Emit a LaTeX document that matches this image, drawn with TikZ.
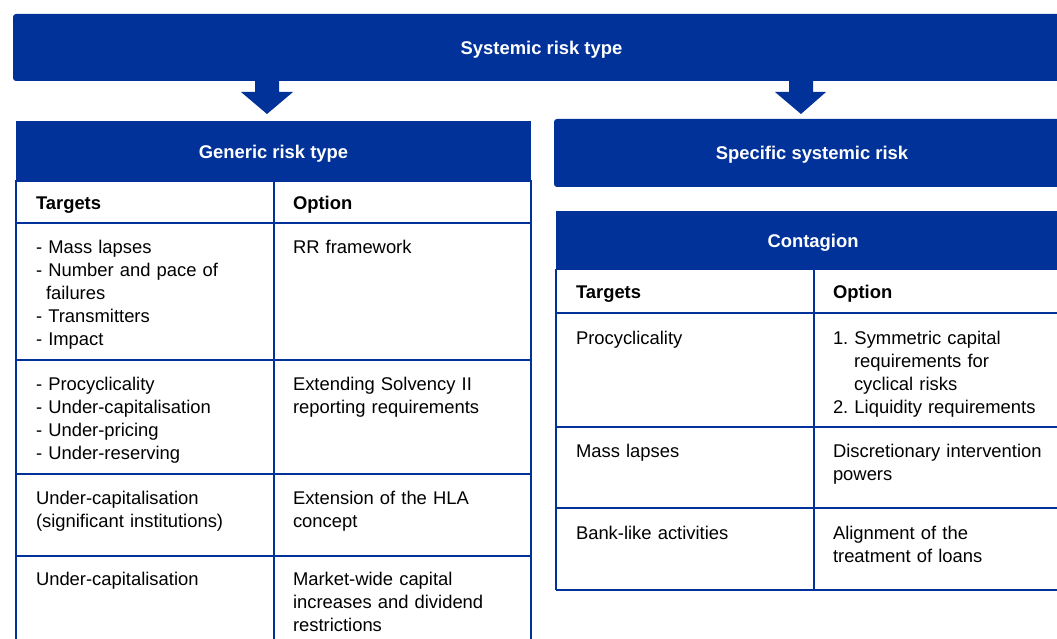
\documentclass[tikz,border=0pt]{standalone}
\usepackage{fontspec}
\setmainfont{Liberation Sans}
\definecolor{ecb}{RGB}{0,50,153}
\begin{document}
\begin{tikzpicture}[x=1pt,y=-1pt,
  hdr/.style={fill=ecb, text=white, font=\bfseries\fontsize{18.4}{23}\selectfont, inner sep=0pt, outer sep=0pt, text height=13.2pt, text depth=0pt},
  cell/.style={anchor=base west, inner sep=0pt, outer sep=0pt, align=left, text width=235pt, font=\fontsize{18.4}{23}\selectfont, text=black},
  headcell/.style={cell, font=\bfseries\fontsize{18.4}{23}\selectfont},
  grid/.style={draw=ecb, line width=2.5pt},
  blockarrow/.style={fill=ecb}]
\useasboundingbox (0,0) rectangle (1057,639);
\clip (0,0) rectangle (1057,639);

% headers
\node[hdr, rounded corners=3pt, minimum width=1057pt, minimum height=67pt] (banner) at (541.5,47.5) {Systemic risk type};
\node[hdr, minimum width=515pt, minimum height=61pt] (generic) at (273.5,151.5) {Generic risk type};
\node[hdr, rounded corners=3pt, minimum width=516pt, minimum height=68pt] (specific) at (812,153) {Specific systemic risk};
\node[hdr, minimum width=514pt, minimum height=59pt] (contagion) at (813,240.5) {Contagion};

% block arrows
\fill[blockarrow] (255,80) -- (279,80) -- (279,92) -- (293,92) -- (267,114) -- (241,92) -- (255,92) -- cycle;
\fill[blockarrow] (789,80) -- (813,80) -- (813,92) -- (826,92) -- (801,114) -- (775,92) -- (789,92) -- cycle;

% left table grid
\draw[grid] (16,180) -- (16,645);
\draw[grid] (274,180) -- (274,645);
\draw[grid] (531,180) -- (531,645);
\foreach \y in {223,360,474,556} \draw[grid] (16,\y) -- (531,\y);

% right table grid
\draw[grid] (556,269) -- (556,590);
\draw[grid] (814,269) -- (814,590);
\foreach \y in {313,427,508,590} \draw[grid] (556,\y) -- (1075,\y);

% left table text
\node[headcell] (lt0) at (36,209) {Targets};
\node[headcell] (lo0) at (293,209) {Option};
\node[cell] (lt1) at (36,253) {- Mass lapses\\- Number and pace of\\\hspace*{10pt}failures\\- Transmitters\\- Impact};
\node[cell] (lo1) at (293,253) {RR framework};
\node[cell] (lt2) at (36,390) {- Procyclicality\\- Under-capitalisation\\- Under-pricing\\- Under-reserving};
\node[cell] (lo2) at (293,390) {Extending Solvency II\\reporting requirements};
\node[cell] (lt3) at (36,504) {Under-capitalisation\\(significant institutions)};
\node[cell] (lo3) at (293,504) {Extension of the HLA\\concept};
\node[cell] (lt4) at (36,585) {Under-capitalisation};
\node[cell] (lo4) at (293,585) {Market-wide capital\\increases and dividend\\restrictions};

% right table text
\node[headcell] (rt0) at (576,298) {Targets};
\node[headcell] (ro0) at (833,298) {Option};
\node[cell] (rt1) at (576,344) {Procyclicality};
\node[cell] (ro1) at (833,344) {1.\ Symmetric capital\\\hspace*{21pt}requirements for\\\hspace*{21pt}cyclical risks\\2.\ Liquidity requirements};
\node[cell] (rt2) at (576,457) {Mass lapses};
\node[cell] (ro2) at (833,457) {Discretionary intervention\\powers};
\node[cell] (rt3) at (576,539) {Bank-like activities};
\node[cell] (ro3) at (833,539) {Alignment of the\\treatment of loans};
\end{tikzpicture}
\end{document}
